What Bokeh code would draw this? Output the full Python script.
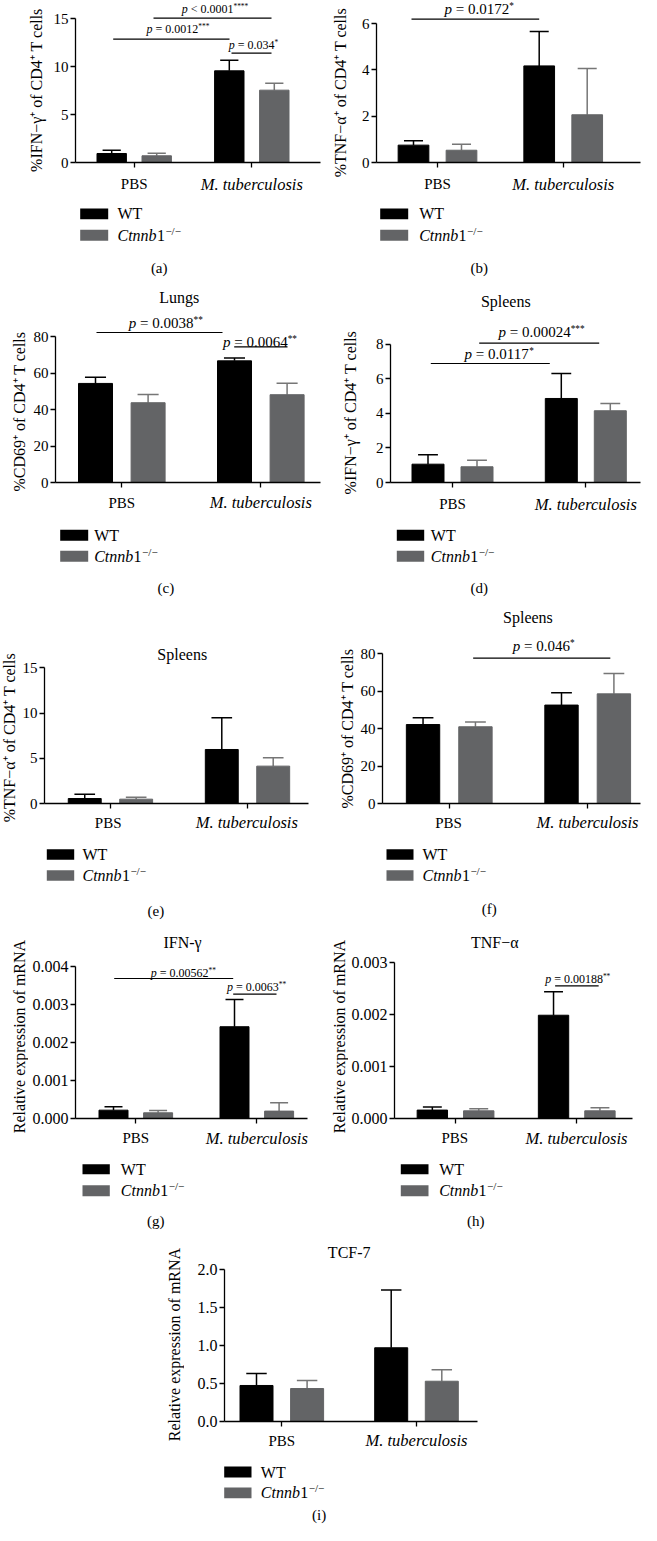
import math
from bokeh.plotting import figure
from bokeh.layouts import column, row
from bokeh.models import (Range1d, FixedTicker, NumeralTickFormatter, Label,
                          Whisker, TeeHead, ColumnDataSource)
from bokeh.core.properties import value
from bokeh.embed import file_html
from bokeh.resources import INLINE

# ---------------- data ----------------
groups = ["PBS", "M. tuberculosis"]
series = ["WT", "Ctnnb1"]
series_sup = "−/−"
panel_tags = ["(a)", "(b)", "(c)", "(d)", "(e)", "(f)", "(g)", "(h)", "(i)"]

a_title = ""
a_ylabel = "%IFN−γ⁺ of CD4⁺ T cells"
a_yticks = [0, 5, 10, 15]
a_wt = [0.94, 9.57]
a_wt_err = [0.34, 1.11]
a_ko = [0.70, 7.55]
a_ko_err = [0.27, 0.73]
a_p = ["< 0.0001", "= 0.0012", "= 0.034"]
a_stars = ["****", "***", "*"]

b_title = ""
b_ylabel = "%TNF−α⁺ of CD4⁺ T cells"
b_yticks = [0, 2, 4, 6]
b_wt = [0.75, 4.17]
b_wt_err = [0.19, 1.48]
b_ko = [0.53, 2.06]
b_ko_err = [0.26, 2.00]
b_p = ["= 0.0172"]
b_stars = ["*"]

c_title = "Lungs"
c_ylabel = "%CD69⁺ of CD4⁺ T cells"
c_yticks = [0, 20, 40, 60, 80]
c_wt = [54.4, 66.8]
c_wt_err = [3.4, 1.5]
c_ko = [43.8, 48.2]
c_ko_err = [4.5, 6.3]
c_p = ["= 0.0038", "= 0.0064"]
c_stars = ["**", "**"]

d_title = "Spleens"
d_ylabel = "%IFN−γ⁺ of CD4⁺ T cells"
d_yticks = [0, 2, 4, 6, 8]
d_wt = [1.06, 4.86]
d_wt_err = [0.54, 1.44]
d_ko = [0.91, 4.15]
d_ko_err = [0.38, 0.42]
d_p = ["= 0.00024", "= 0.0117"]
d_stars = ["***", "*"]

e_title = "Spleens"
e_ylabel = "%TNF−α⁺ of CD4⁺ T cells"
e_yticks = [0, 5, 10, 15]
e_wt = [0.55, 5.97]
e_wt_err = [0.48, 3.51]
e_ko = [0.48, 4.13]
e_ko_err = [0.22, 0.92]
e_p = []
e_stars = []

f_title = "Spleens"
f_ylabel = "%CD69⁺ of CD4⁺ T cells"
f_yticks = [0, 20, 40, 60, 80]
f_wt = [42.2, 52.6]
f_wt_err = [3.6, 6.6]
f_ko = [41.0, 58.6]
f_ko_err = [2.5, 10.9]
f_p = ["= 0.046"]
f_stars = ["*"]

g_title = "IFN-γ"
g_ylabel = "Relative expression of mRNA"
g_yticks = [0, 0.001, 0.002, 0.003, 0.004]
g_wt = [0.00022, 0.00242]
g_wt_err = [0.00009, 0.00072]
g_ko = [0.00015, 0.000195]
g_ko_err = [0.00006, 0.00022]
g_p = ["= 0.00562", "= 0.0063"]
g_stars = ["**", "**"]

h_title = "TNF−α"
h_ylabel = "Relative expression of mRNA"
h_yticks = [0, 0.001, 0.002, 0.003]
h_wt = [0.000162, 0.00199]
h_wt_err = [0.00006, 0.00045]
h_ko = [0.000148, 0.000148]
h_ko_err = [0.00004, 0.00006]
h_p = ["= 0.00188"]
h_stars = ["**"]

i_title = "TCF-7"
i_ylabel = "Relative expression of mRNA"
i_yticks = [0, 0.5, 1.0, 1.5, 2.0]
i_wt = [0.474, 0.97]
i_wt_err = [0.156, 0.76]
i_ko = [0.434, 0.53]
i_ko_err = [0.106, 0.15]
i_p = []
i_stars = []

# ---------------- styles / layout (page pixels) ----------------
FONT = "Liberation Serif"
WT_COLOR = "#000000"
KO_COLOR = "#636466"
KO_ERR = "#767676"
group_styles = ["normal", "italic"]
group_sizes = ["15px", "16.5px"]

# block: (top, bottom of the plot, bottom of the legend strip)
BLOCKS = {1: (8, 182, 292), 2: (292, 502, 612), 3: (612, 821, 935), 4: (935, 1137, 1240), 5: (1240, 1440, 1532)}

GEOM = {
    "a": dict(row=1, col=(8, 57, 330), FL=82.7, FR=328, Y0=170, ytop=26.3, G0=141.7, G1=259.3, OFF=22.5, BW=29.4,
              xlab=21.7, tick=15, ylab=(44, 97.5), title=None,
              br=[(161, 279, 25.7, 222.5, 16.7, 12), (120.7, 237, 46.7, 185.5, 36.7, 12), (239, 279, 60.7, 261, 52.7, 12)],
              leg=dict(sw=(87.7, 115.7), wt=(216, 226.7), ko=(237.3, 248.3), tx=125, tag_xy=(166.7, 275))),
    "b": dict(row=1, col=(330, 359, 649), FL=384.3, FR=648, Y0=170, ytop=31, G0=445, G1=570.7, OFF=24, BW=30.7,
              xlab=21.7, tick=15, ylab=(347.5, 100), title=None,
              br=[(419, 546.7, 26.7, 486.7, 16, 15)],
              leg=dict(sw=(387.7, 415.7), wt=(216, 226.7), ko=(237.3, 248.3), tx=426.7, tag_xy=(486.7, 275))),
    "c": dict(row=2, col=(8, 37, 330), FL=63.3, FR=328, Y0=490, ytop=344.3, G0=129.3, G1=268.3, OFF=26.3, BW=34,
              xlab=20, tick=15, ylab=(26.7, 419), title=(186.7, 305),
              br=[(104, 230, 340, 173.3, 330, 15), (241.7, 295, 354.3, 267.5, 349.3, 15)],
              leg=dict(sw=(67.7, 95.7), wt=(537.3, 548.3), ko=(558.3, 569.3), tx=101.7, tag_xy=(173.3, 595))),
    "d": dict(row=2, col=(330, 369, 649), FL=398.3, FR=648, Y0=490, ytop=351.7, G0=460, G1=593.3, OFF=24.5, BW=32,
              xlab=21.7, tick=15, ylab=(358.3, 420), title=(513.3, 309.3),
              br=[(486.7, 606.7, 350.7, 549, 339.3, 15), (438.3, 557.3, 371, 506.7, 361, 15)],
              leg=dict(sw=(404.3, 431.7), wt=(537.3, 548.3), ko=(558.3, 569.3), tx=438.3, tag_xy=(486.7, 595))),
    "e": dict(row=3, col=(8, 27, 330), FL=49.3, FR=316, Y0=810.7, ytop=675, G0=115.7, G1=254.3, OFF=26, BW=33.3,
              xlab=19.3, tick=15, ylab=(16.7, 745), title=(188.3, 661.7), br=[],
              leg=dict(sw=(54.3, 81.7), wt=(856.7, 867.3), ko=(877.7, 888.3), tx=90, tag_xy=(163.3, 918.3))),
    "f": dict(row=3, col=(330, 365, 649), FL=389, FR=648, Y0=810.7, ytop=661, G0=456, G1=595, OFF=26.3, BW=33.5,
              xlab=19.3, tick=15, ylab=(355, 736), title=(535, 625),
              br=[(480, 617.7, 665.7, 550.8, 653.3, 15)],
              leg=dict(sw=(394, 421), wt=(856.7, 867.3), ko=(877.7, 888.3), tx=430, tag_xy=(496.7, 916.7))),
    "g": dict(row=4, col=(8, 36, 330), FL=83.3, FR=315, Y0=1125.7, ytop=974, G0=143.3, G1=264.3, OFF=22.3, BW=29,
              xlab=20, tick=16, ylab=(26.7, 1044), title=(190, 950), fmt="0.000",
              br=[(121.7, 240.7, 986, 190.8, 980, 12), (240.7, 284, 1001.7, 264.2, 994.3, 12)],
              leg=dict(sw=(90, 117.3), wt=(1171.7, 1181.7), ko=(1192.7, 1203.7), tx=128.3, tag_xy=(163.3, 1228.3))),
    "h": dict(row=4, col=(330, 356, 649), FL=401, FR=640, Y0=1125.7, ytop=970, G0=462.3, G1=584, OFF=23.3, BW=30.5,
              xlab=20, tick=16, ylab=(346.7, 1044), title=(501.7, 950), fmt="0.000",
              br=[(562.3, 606, 993.3, 585, 986, 12)],
              leg=dict(sw=(408.3, 436), wt=(1171.7, 1181.7), ko=(1192.7, 1203.7), tx=446.7, tag_xy=(483.3, 1228.3))),
    "i": dict(row=5, col=(8, 192, 649), FL=231.7, FR=485, Y0=1428.7, ytop=1276.7, G0=289.3, G1=424, OFF=25.3, BW=33,
              xlab=19.6, tick=16, ylab=(181.7, 1352), title=(356.7, 1260), fmt="0.0", br=[],
              leg=dict(sw=(231.7, 259), wt=(1474, 1485), ko=(1495, 1505.7), tx=268.3, tag_xy=(326.7, 1522))),
}

CW = {".": 0.25, " ": 0.25, "=": 0.564, "<": 0.564, "*": 0.5, "C": 0.667, "t": 0.278}


def em(s):
    return sum(CW.get(ch, 0.5) for ch in s)


def blank_fig(x0, x1, top, bottom, flip=True):
    yr = Range1d(bottom, top) if flip else Range1d(-bottom, -top)
    p = figure(width=int(x1 - x0), height=int(bottom - top), x_range=Range1d(x0, x1), y_range=yr,
               x_axis_type=None, y_axis_type=None, min_border=0, output_backend="svg",
               toolbar_location=None, frame_align=False)
    p.outline_line_color = None
    return p


def p_label(p, xc, yc, rest, stars, f):
    fs = f * 0.62
    w = (0.75 + em(rest)) * f + em(stars) * fs
    x0 = -w / 2
    common = dict(x=xc, y=yc, text_baseline="middle", text_align="left", text_font=FONT, text_color="black")
    p.add_layout(Label(text="p", x_offset=x0, text_font_size=f"{f}px", text_font_style="italic", **common))
    p.add_layout(Label(text=rest, x_offset=x0 + 0.75 * f, text_font_size=f"{f}px", **common))
    if stars:
        p.add_layout(Label(text=stars, x_offset=x0 + (0.75 + em(rest)) * f, y_offset=0.2 * f,
                           text_font_size=f"{fs:.1f}px", **common))


def make_panel(key, tag, title, ylabel, yticks, wt, wt_err, ko, ko_err, pvals, stars):
    g = GEOM[key]
    ft, fb, sb = BLOCKS[g["row"]]
    cl, fl, fr = g["col"]
    bl = int(round(g["FL"] - fl))
    br_ = int(round(fr - g["FR"]))
    bb = int(round(fb - g["Y0"]))
    FL = fl + bl
    FR = fr - br_
    Y0 = fb - bb
    unit = g["G1"] - g["G0"]
    S = (g["Y0"] - g["ytop"]) / yticks[-1]
    xs = (FL - g["G0"]) / unit
    xe = (FR - g["G0"]) / unit
    ye = (Y0 - ft) / S

    def dx(px):
        return (px - g["G0"]) / unit

    def dy(py):
        return (Y0 - py) / S

    p = figure(width=fr - fl, height=fb - ft, x_range=Range1d(xs, xe), y_range=Range1d(0, ye),
               output_backend="svg", toolbar_location=None, frame_align=False,
               min_border_left=bl, min_border_right=br_, min_border_top=0, min_border_bottom=bb)
    p.outline_line_color = None
    p.grid.visible = False

    off = g["OFF"] / unit
    bw = g["BW"] / unit
    gx = list(range(len(groups)))
    wt_x = [i - off for i in gx]
    ko_x = [i + off for i in gx]
    p.vbar(x=wt_x, top=wt, bottom=0, width=bw, fill_color=WT_COLOR, line_color=WT_COLOR)
    p.vbar(x=ko_x, top=ko, bottom=0, width=bw, fill_color=KO_COLOR, line_color=KO_COLOR)

    cap = 0.62 * g["BW"]
    for xx, m, e, col in [(wt_x, wt, wt_err, WT_COLOR), (ko_x, ko, ko_err, KO_ERR)]:
        src = ColumnDataSource(dict(x=xx, lower=m, upper=[a + b for a, b in zip(m, e)]))
        p.add_layout(Whisker(source=src, base="x", lower="lower", upper="upper", dimension="height",
                             line_color=col, line_width=1.5,
                             upper_head=TeeHead(size=cap, line_color=col, line_width=1.5), lower_head=None))

    xa = p.xaxis[0]
    xa.ticker = FixedTicker(ticks=gx)
    xa.major_label_overrides = {i: "" for i in gx}
    xa.major_label_text_font_size = "1px"
    xa.major_label_standoff = 0
    xa.major_tick_out = 5
    xa.major_tick_in = 0
    xa.minor_tick_out = 0
    xa.minor_tick_in = 0
    xa.axis_line_width = 1.3
    xa.major_tick_line_width = 1.3

    ya = p.yaxis[0]
    ya.ticker = FixedTicker(ticks=yticks)
    ya.bounds = (0, yticks[-1])
    if g.get("fmt"):
        ya.formatter = NumeralTickFormatter(format=g["fmt"])
    ya.major_tick_out = 5
    ya.major_tick_in = 0
    ya.minor_tick_out = 0
    ya.minor_tick_in = 0
    ya.axis_line_width = 1.3
    ya.major_tick_line_width = 1.3
    ya.major_label_standoff = 2
    ya.major_label_text_font = FONT
    ya.major_label_text_font_size = f"{g['tick']}px"
    ya.major_label_text_color = "black"

    if title and g["title"]:
        tx, ty = g["title"]
        p.add_layout(Label(x=dx(tx), y=dy(ty), text=title, text_align="center", text_baseline="middle",
                           text_font=FONT, text_font_size="16px", text_color="black"))

    if g["br"]:
        x0s, x1s, ys = [], [], []
        for (bx0, bx1, by, _, _, _) in g["br"]:
            x0s.append(dx(bx0)); x1s.append(dx(bx1)); ys.append(dy(by))
        p.segment(x0=x0s, y0=ys, x1=x1s, y1=ys, line_color="black", line_width=1.2)
        for (bx0, bx1, by, cx, cy, f), rest, st in zip(g["br"], pvals, stars):
            p_label(p, dx(cx), dy(cy), rest, st, f)

    # strip below the plot: category labels, legend, panel tag
    s = blank_fig(fl, fr, fb, sb, flip=True)
    base = dict(text_font=value(FONT), text_baseline="middle", text_align="left", text_color="black")
    for i, gname in enumerate(groups):
        gxp = g["G0"] + i * unit
        s.text(x=[gxp], y=[g["Y0"] + g["xlab"]], text=[gname], text_font=value(FONT),
               text_font_size=value(group_sizes[i]), text_font_style=group_styles[i], text_align="center",
               text_baseline="middle", text_color="black")
    lg = g["leg"]
    sx0, sx1 = lg["sw"]
    s.quad(left=[sx0, sx0], right=[sx1, sx1], top=[lg["wt"][0], lg["ko"][0]],
           bottom=[lg["wt"][1], lg["ko"][1]], fill_color=[WT_COLOR, KO_COLOR], line_color=None)
    wy = sum(lg["wt"]) / 2
    ky = sum(lg["ko"]) / 2
    tx = lg["tx"]
    fsz = 16
    s.text(x=[tx], y=[wy], text=[series[0]], text_font_size=value(f"{fsz}px"), **base)
    ital = series[1][:-1]
    s.text(x=[tx], y=[ky], text=[ital], text_font_size=value(f"{fsz}px"), text_font_style="italic", **base)
    x1 = tx + em(ital) * fsz + 0.3
    s.text(x=[x1], y=[ky], text=[series[1][-1]], text_font_size=value(f"{fsz}px"), **base)
    s.text(x=[x1 + 0.5 * fsz + 0.5], y=[ky - 4.5], text=[series_sup], text_font_size=value("11px"), **base)
    cx, cy = lg["tag_xy"]
    s.text(x=[cx], y=[cy], text=[tag], text_font=value(FONT), text_font_size=value("15px"),
           text_align="center", text_baseline="middle", text_color="black")

    # rotated y-axis title in its own narrow figure on the left
    lab = blank_fig(cl, fl, ft, sb, flip=False)
    lx, ly = g["ylab"]
    lab.text(x=[lx], y=[-ly], text=[ylabel], angle=math.pi / 2, text_align="center", text_baseline="middle",
             text_font=value(FONT), text_font_size=value("16px"), text_color="black")
    return [lab, column(p, s, spacing=0)]


pa = make_panel("a", panel_tags[0], a_title, a_ylabel, a_yticks, a_wt, a_wt_err, a_ko, a_ko_err, a_p, a_stars)
pb = make_panel("b", panel_tags[1], b_title, b_ylabel, b_yticks, b_wt, b_wt_err, b_ko, b_ko_err, b_p, b_stars)
pc = make_panel("c", panel_tags[2], c_title, c_ylabel, c_yticks, c_wt, c_wt_err, c_ko, c_ko_err, c_p, c_stars)
pd = make_panel("d", panel_tags[3], d_title, d_ylabel, d_yticks, d_wt, d_wt_err, d_ko, d_ko_err, d_p, d_stars)
pe = make_panel("e", panel_tags[4], e_title, e_ylabel, e_yticks, e_wt, e_wt_err, e_ko, e_ko_err, e_p, e_stars)
pf = make_panel("f", panel_tags[5], f_title, f_ylabel, f_yticks, f_wt, f_wt_err, f_ko, f_ko_err, f_p, f_stars)
pg = make_panel("g", panel_tags[6], g_title, g_ylabel, g_yticks, g_wt, g_wt_err, g_ko, g_ko_err, g_p, g_stars)
ph = make_panel("h", panel_tags[7], h_title, h_ylabel, h_yticks, h_wt, h_wt_err, h_ko, h_ko_err, h_p, h_stars)
pi = make_panel("i", panel_tags[8], i_title, i_ylabel, i_yticks, i_wt, i_wt_err, i_ko, i_ko_err, i_p, i_stars)

layout = column(row(*pa, *pb, spacing=0),
                row(*pc, *pd, spacing=0),
                row(*pe, *pf, spacing=0),
                row(*pg, *ph, spacing=0),
                row(*pi, spacing=0), spacing=0)

open("out.html", "w").write(file_html(layout, INLINE))
